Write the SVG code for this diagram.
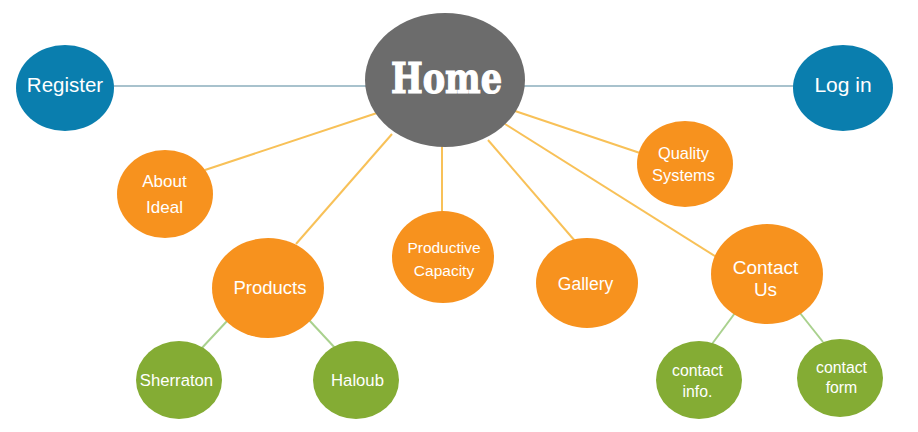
<svg xmlns="http://www.w3.org/2000/svg" width="918" height="432" viewBox="0 0 918 432">
<style>
.o{fill:#f7921e}.g{fill:#84ac34}.b{fill:#0a7eae}
.t{font-family:"Liberation Sans",Arial,sans-serif;fill:#fff;text-anchor:middle}
.lo{stroke:#f8c158;stroke-width:2;fill:none}
.lg{stroke:#a9d18e;stroke-width:2;fill:none}
.lb{stroke:#a8c2cd;stroke-width:2;fill:none}
</style>
<rect width="918" height="432" fill="#fff"/>
<g id="connectors">
<line class="lb" x1="110" y1="86" x2="800" y2="86"/>
<line class="lo" x1="205" y1="170" x2="380" y2="112"/>
<line class="lo" x1="296" y1="244" x2="392" y2="134"/>
<line class="lo" x1="442" y1="140" x2="442" y2="213"/>
<line class="lo" x1="488" y1="140" x2="575" y2="241"/>
<line class="lo" x1="512" y1="110" x2="640" y2="153"/>
<line class="lo" x1="505" y1="124" x2="718" y2="258"/>
<line class="lg" x1="228" y1="320" x2="200" y2="350"/>
<line class="lg" x1="309" y1="320" x2="336" y2="349"/>
<line class="lg" x1="735" y1="313" x2="712" y2="344"/>
<line class="lg" x1="800" y1="313" x2="823" y2="342"/>
</g>
<g id="home"><ellipse cx="445" cy="80" rx="80" ry="67" fill="#6c6c6c"/><text x="446.5" y="93" font-family="'DejaVu Serif Condensed','DejaVu Serif',serif" font-weight="bold" font-size="43" fill="#fff" stroke="#fff" stroke-width="1.2" text-anchor="middle" textLength="111" lengthAdjust="spacingAndGlyphs">Home</text></g>
<g id="register"><ellipse class="b" cx="65" cy="88" rx="49" ry="43"/><text class="t" x="65" y="92" font-size="20.5">Register</text></g>
<g id="login"><ellipse class="b" cx="843" cy="88" rx="50" ry="43"/><text class="t" x="843" y="92" font-size="21">Log in</text></g>
<g id="about"><ellipse class="o" cx="165" cy="194" rx="48" ry="44"/><text class="t" x="164.5" y="187" font-size="17">About</text><text class="t" x="164.5" y="213" font-size="17">Ideal</text></g>
<g id="products"><ellipse class="o" cx="268" cy="288" rx="56" ry="50"/><text class="t" x="270" y="294" font-size="18.5">Products</text></g>
<g id="productive"><ellipse class="o" cx="443" cy="257" rx="51" ry="46"/><text class="t" x="444" y="253" font-size="15.5">Productive</text><text class="t" x="444" y="276" font-size="15.5">Capacity</text></g>
<g id="gallery"><ellipse class="o" cx="587" cy="283" rx="51" ry="45"/><text class="t" x="585.5" y="290" font-size="17.5">Gallery</text></g>
<g id="quality"><ellipse class="o" cx="685" cy="164" rx="48" ry="43"/><text class="t" x="683.5" y="159" font-size="16.4">Quality</text><text class="t" x="683.5" y="181" font-size="16.4">Systems</text></g>
<g id="contact"><ellipse class="o" cx="767" cy="274" rx="56" ry="50"/><text class="t" x="765.5" y="274" font-size="19">Contact</text><text class="t" x="765.5" y="296" font-size="19">Us</text></g>
<g id="sherraton"><ellipse class="g" cx="179" cy="380" rx="43" ry="39"/><text class="t" x="176.5" y="386" font-size="16.7">Sherraton</text></g>
<g id="haloub"><ellipse class="g" cx="356" cy="380" rx="43" ry="39"/><text class="t" x="357.5" y="386" font-size="16.7">Haloub</text></g>
<g id="contactinfo"><ellipse class="g" cx="699" cy="380" rx="43" ry="39"/><text class="t" x="697.5" y="376" font-size="15.8">contact</text><text class="t" x="697.5" y="397" font-size="15.8">info.</text></g>
<g id="contactform"><ellipse class="g" cx="840" cy="378" rx="43" ry="39"/><text class="t" x="841.5" y="373" font-size="15.8">contact</text><text class="t" x="841.5" y="393" font-size="15.8">form</text></g>
</svg>
